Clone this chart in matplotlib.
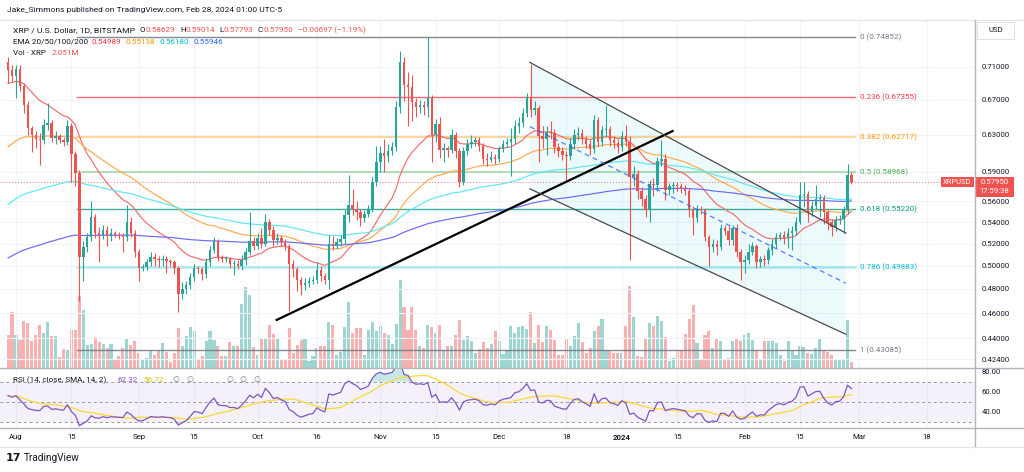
import numpy as np
import pandas as pd
import matplotlib
matplotlib.use("Agg")
import matplotlib.pyplot as plt
import matplotlib.dates as mdates
from matplotlib.ticker import NullLocator, NullFormatter
from matplotlib.patches import Rectangle
from matplotlib.lines import Line2D

plt.rcParams['font.family'] = ['Roboto', 'DejaVu Sans']

# ---- data (XRP/USD daily, Bitstamp) ----
dates = pd.date_range("2023-07-30", "2024-02-28", freq="D")
first_open = 0.716

close = [
    0.706, 0.698,
    0.707, 0.686, 0.664, 0.637, 0.630, 0.625, 0.624, 0.641, 0.643, 0.626, 0.628, 0.624, 0.622, 0.640, 0.609, 0.589,
    0.508, 0.517, 0.526, 0.545, 0.530, 0.528, 0.533, 0.527, 0.530, 0.528, 0.527, 0.526, 0.540, 0.530, 0.512,
    0.498, 0.499, 0.503, 0.508, 0.506, 0.505, 0.506, 0.504, 0.503, 0.498, 0.476, 0.480, 0.483, 0.490, 0.498,
    0.497, 0.493, 0.503, 0.514, 0.522, 0.508, 0.506, 0.506, 0.502, 0.502, 0.500, 0.505, 0.512, 0.522, 0.518,
    0.525, 0.520, 0.540, 0.533, 0.523, 0.525, 0.521, 0.518, 0.502, 0.497, 0.488, 0.483, 0.485, 0.487, 0.488, 0.496,
    0.491, 0.488, 0.520, 0.518, 0.521, 0.524, 0.547, 0.557, 0.553, 0.550, 0.544, 0.548, 0.553, 0.580, 0.600,
    0.610, 0.607, 0.612, 0.616, 0.661, 0.716, 0.687, 0.685, 0.667, 0.661, 0.664, 0.662, 0.672, 0.630, 0.642,
    0.613, 0.615, 0.613, 0.630, 0.612, 0.580, 0.612, 0.620, 0.622, 0.624, 0.618, 0.604, 0.602, 0.606, 0.603,
    0.614, 0.620, 0.622, 0.625, 0.640, 0.643, 0.654, 0.673, 0.658, 0.660, 0.628, 0.625, 0.633, 0.632, 0.616, 0.612,
    0.608, 0.607, 0.620, 0.630, 0.632, 0.625, 0.620, 0.614, 0.646, 0.622, 0.635, 0.636, 0.624, 0.621, 0.616,
    0.628, 0.622, 0.585, 0.588, 0.570, 0.562, 0.552, 0.578, 0.577, 0.601, 0.603, 0.571, 0.575, 0.577, 0.575, 0.572,
    0.570, 0.552, 0.544, 0.553, 0.552, 0.526, 0.517, 0.520, 0.517, 0.534, 0.532, 0.523, 0.534, 0.512, 0.503,
    0.505, 0.512, 0.518, 0.503, 0.506, 0.505, 0.514, 0.520, 0.526, 0.528, 0.525, 0.530, 0.532, 0.540, 0.566,
    0.567, 0.550, 0.556, 0.562, 0.563, 0.550, 0.540, 0.535, 0.542, 0.543, 0.552, 0.58629, 0.5795,
]
high = [
    0.722, 0.712,
    0.712, 0.712, 0.690, 0.668, 0.640, 0.634, 0.632, 0.648, 0.666, 0.646, 0.634, 0.631, 0.627, 0.646, 0.643, 0.612,
    0.592, 0.522, 0.530, 0.560, 0.548, 0.535, 0.537, 0.536, 0.534, 0.532, 0.531, 0.530, 0.557, 0.545, 0.533,
    0.515, 0.502, 0.506, 0.512, 0.511, 0.509, 0.510, 0.509, 0.506, 0.505, 0.500, 0.486, 0.487, 0.494, 0.502,
    0.500, 0.499, 0.507, 0.518, 0.526, 0.524, 0.510, 0.509, 0.508, 0.505, 0.505, 0.510, 0.516, 0.550, 0.526,
    0.530, 0.534, 0.548, 0.543, 0.536, 0.530, 0.528, 0.524, 0.520, 0.505, 0.499, 0.490, 0.489, 0.490, 0.491, 0.503,
    0.500, 0.494, 0.528, 0.527, 0.525, 0.528, 0.552, 0.587, 0.572, 0.560, 0.553, 0.552, 0.557, 0.585, 0.618,
    0.618, 0.625, 0.620, 0.622, 0.668, 0.730, 0.722, 0.704, 0.700, 0.672, 0.670, 0.668, 0.7485, 0.676, 0.648,
    0.650, 0.621, 0.618, 0.636, 0.633, 0.615, 0.616, 0.625, 0.630, 0.627, 0.627, 0.621, 0.610, 0.612, 0.609,
    0.618, 0.624, 0.626, 0.637, 0.646, 0.650, 0.660, 0.678, 0.714, 0.668, 0.664, 0.640, 0.640, 0.645, 0.636, 0.621,
    0.616, 0.612, 0.626, 0.636, 0.638, 0.636, 0.629, 0.624, 0.652, 0.650, 0.640, 0.664, 0.640, 0.628, 0.625,
    0.634, 0.641, 0.628, 0.596, 0.592, 0.574, 0.566, 0.582, 0.584, 0.606, 0.624, 0.609, 0.579, 0.580, 0.580, 0.579,
    0.576, 0.573, 0.556, 0.557, 0.556, 0.554, 0.528, 0.524, 0.523, 0.538, 0.537, 0.536, 0.537, 0.538, 0.515,
    0.510, 0.520, 0.521, 0.520, 0.509, 0.510, 0.517, 0.524, 0.530, 0.531, 0.532, 0.534, 0.536, 0.545, 0.580,
    0.580, 0.570, 0.560, 0.576, 0.567, 0.566, 0.552, 0.543, 0.546, 0.547, 0.556, 0.598, 0.59014,
]
low = [
    0.690, 0.693,
    0.672, 0.680, 0.655, 0.630, 0.611, 0.615, 0.597, 0.620, 0.635, 0.622, 0.620, 0.621, 0.618, 0.619, 0.580, 0.575,
    0.470, 0.487, 0.512, 0.522, 0.525, 0.503, 0.524, 0.518, 0.522, 0.526, 0.524, 0.512, 0.522, 0.526, 0.508,
    0.487, 0.495, 0.496, 0.500, 0.500, 0.499, 0.500, 0.494, 0.500, 0.493, 0.461, 0.472, 0.476, 0.480, 0.487,
    0.494, 0.488, 0.489, 0.500, 0.511, 0.504, 0.503, 0.503, 0.498, 0.492, 0.497, 0.496, 0.501, 0.510, 0.514,
    0.515, 0.516, 0.518, 0.528, 0.518, 0.520, 0.518, 0.514, 0.462, 0.490, 0.478, 0.475, 0.479, 0.482, 0.484, 0.485,
    0.487, 0.484, 0.480, 0.514, 0.515, 0.518, 0.520, 0.540, 0.547, 0.542, 0.536, 0.540, 0.545, 0.550, 0.575,
    0.590, 0.590, 0.600, 0.608, 0.612, 0.655, 0.668, 0.640, 0.645, 0.650, 0.655, 0.652, 0.650, 0.600, 0.622,
    0.605, 0.600, 0.606, 0.610, 0.605, 0.574, 0.577, 0.608, 0.615, 0.618, 0.612, 0.598, 0.596, 0.600, 0.598,
    0.600, 0.611, 0.616, 0.586, 0.620, 0.632, 0.638, 0.650, 0.650, 0.652, 0.600, 0.615, 0.608, 0.625, 0.610, 0.606,
    0.602, 0.582, 0.602, 0.614, 0.624, 0.620, 0.615, 0.608, 0.610, 0.616, 0.618, 0.628, 0.618, 0.615, 0.610,
    0.612, 0.618, 0.505, 0.575, 0.562, 0.556, 0.545, 0.540, 0.565, 0.570, 0.596, 0.561, 0.566, 0.568, 0.570, 0.568,
    0.566, 0.545, 0.528, 0.540, 0.548, 0.522, 0.500, 0.512, 0.510, 0.514, 0.528, 0.519, 0.519, 0.508, 0.488,
    0.494, 0.502, 0.510, 0.498, 0.499, 0.500, 0.502, 0.510, 0.516, 0.523, 0.520, 0.516, 0.514, 0.528, 0.538,
    0.555, 0.540, 0.546, 0.553, 0.545, 0.538, 0.533, 0.527, 0.532, 0.538, 0.530, 0.548, 0.57793,
]
# volume in millions XRP
volume = [
    11.0, 18.7,
    11.0, 9.3, 15.7, 15.0, 9.0, 11.0, 14.3, 11.7, 15.3, 10.7, 10.7, 3.7, 6.3, 6.0, 12.7, 12.7,
    24.0, 19.3, 7.7, 8.0, 10.3, 8.7, 8.0, 6.7, 8.0, 2.7, 4.0, 6.7, 10.0, 7.7, 9.0,
    5.0, 2.7, 3.3, 5.7, 4.3, 5.7, 8.3, 5.3, 2.0, 5.0, 13.3, 7.3, 10.7, 13.7, 12.3,
    2.7, 4.0, 9.0, 12.3, 9.3, 7.3, 4.0, 4.0, 8.7, 7.3, 7.3, 21.3, 27.0, 24.3, 7.0,
    4.3, 10.0, 9.7, 14.3, 11.3, 9.7, 3.0, 3.0, 13.3, 5.0, 7.7, 9.3, 10.0, 2.3, 4.0, 6.7,
    7.3, 7.3, 15.3, 14.3, 4.3, 5.3, 13.7, 22.0, 11.7, 13.3, 13.3, 4.3, 12.7, 15.3, 12.3,
    14.0, 11.7, 11.0, 8.0, 14.7, 29.3, 20.3, 12.7, 20.3, 12.7, 7.3, 6.7, 14.3, 13.7, 11.7,
    14.3, 6.0, 7.3, 7.3, 11.0, 16.0, 9.3, 10.7, 9.0, 5.0, 6.3, 8.7, 6.7, 8.0, 12.3,
    9.0, 4.7, 6.0, 14.0, 11.7, 13.7, 14.0, 13.0, 18.7, 8.3, 14.3, 8.7, 14.0, 12.7, 9.3, 4.3,
    4.3, 9.7, 7.3, 10.7, 15.0, 8.7, 5.0, 6.7, 12.3, 14.0, 16.3, 6.0, 5.7, 5.0, 5.0,
    5.0, 14.0, 27.3, 17.0, 4.0, 3.7, 10.0, 15.0, 14.0, 17.3, 15.7, 10.3, 2.3, 3.3, 5.7, 5.7,
    11.3, 16.3, 21.0, 8.3, 2.7, 11.0, 12.3, 6.7, 9.7, 9.0, 2.7, 3.3, 9.0, 10.0, 9.0,
    11.0, 11.7, 9.3, 5.7, 3.0, 9.0, 9.0, 9.0, 8.3, 4.3, 2.3, 9.0, 6.0, 4.3, 7.3,
    7.0, 5.0, 4.7, 6.7, 9.7, 6.0, 5.3, 4.3, 2.7, 2.7, 3.0, 16.0, 2.051,
]

# EMA starting values just before the first candle
ema_lengths = [20, 50, 100, 200]
ema_seeds = [0.688, 0.613, 0.554, 0.505]
ema_colors = ['#f26b6b', '#ffa94d', '#5ee6f2', '#6a6af5']
ema_labels = ['0.54989', '0.55138', '0.56180', '0.55946']
ema_label_colors = ['#f23645', '#ff9800', '#00bcd4', '#2962ff']
rsi_seed_gain, rsi_seed_loss = 0.013, 0.0094

# fibonacci retracement
fib_levels = ['0', '0.236', '0.382', '0.5', '0.618', '0.786', '1']
fib_values = [0.74852, 0.67355, 0.62717, 0.58968, 0.55220, 0.49883, 0.43085]
fib_colors = ['#787b86', '#f23645', '#ff9800', '#4caf50', '#089981', '#00bcd4', '#787b86']
fib_start, fib_end, fib_label_at = "2023-08-16 08:00", "2024-02-28 22:00", "2024-03-01 03:00"

# drawings
trend_dates = ["2023-10-05 20:00", "2024-01-13 20:00"]
trend_prices = [0.4545, 0.634]
chan_dates = ["2023-12-08 19:00", "2024-02-26 14:00"]
chan_upper = [0.7155, 0.5297]
chan_mid = [0.6389, 0.4849]
chan_lower = [0.5726, 0.4432]

last_price = 0.5795
price_ticks = [0.71, 0.67, 0.63, 0.59, 0.56, 0.54, 0.52, 0.50, 0.48, 0.46, 0.44, 0.424]
rsi_ticks = [80, 60, 40]
tick_dates = ['2023-08-01', '2023-08-15', '2023-09-01', '2023-09-15', '2023-10-01', '2023-10-16',
              '2023-11-01', '2023-11-15', '2023-12-01', '2023-12-18', '2024-01-01', '2024-01-15',
              '2024-02-01', '2024-02-15', '2024-03-01', '2024-03-18']
tick_labels = ['Aug', '15', 'Sep', '15', 'Oct', '16', 'Nov', '15', 'Dec', '18', '2024', '15',
               'Feb', '15', 'Mar', '18']

# ---- helpers ----
def ema(values, n, seed):
    a = 2 / (n + 1)
    e = seed
    out = []
    for v in values:
        e = e + a * (v - e)
        out.append(e)
    return np.array(out)


def rsi(values, prev, g, l, n=14):
    out = []
    for v in values:
        d = v - prev
        prev = v
        g = (g * (n - 1) + max(d, 0)) / n
        l = (l * (n - 1) + max(-d, 0)) / n
        out.append(100 - 100 / (1 + g / l))
    return np.array(out)


W, H = 1024, 472
TXT = '#131722'
GREEN, RED = '#26a69a', '#ef5350'

fig = plt.figure(figsize=(W / 100, H / 100), dpi=100)
fig.patch.set_facecolor('white')


def px_axes(x0, y0, x1, y1):
    return fig.add_axes([x0 / W, 1 - y1 / H, (x1 - x0) / W, (y1 - y0) / H])


def ftext(x, y, s, **kw):
    fig.text(x / W, 1 - y / H, s, va='center', **kw)


def fline(x0, y0, x1, y1, **kw):
    fig.add_artist(Line2D([x0 / W, x1 / W], [1 - y0 / H, 1 - y1 / H], **kw))


xs = mdates.date2num(dates)
c = np.array(close)
o = np.array([first_open] + close[:-1])
hi = np.array(high)
lo = np.array(low)
up = c >= o
cols = np.where(up, GREEN, RED)

x_left = mdates.date2num(pd.Timestamp("2023-08-01")) - 4.04
x_right = mdates.date2num(pd.Timestamp("2023-08-01")) + 242.2
tick_x = mdates.date2num(pd.to_datetime(tick_dates))

# ---- volume (behind) ----
vax = px_axes(0, 20, 975, 368)
vax.bar(xs, volume, width=0.78, color=cols, alpha=0.45, linewidth=0)
vax.set_xlim(x_left, x_right)
vax.set_ylim(0, 116)
vax.axis('off')

# ---- price pane ----
ax = px_axes(0, 20, 975, 368)
ax.set_zorder(vax.get_zorder() + 1)
ax.patch.set_visible(False)
ax.set_yscale('log')
ax.set_xlim(x_left, x_right)
ax.set_ylim(0.4176, 0.7710)
for s in ax.spines.values():
    s.set_visible(False)
ax.yaxis.tick_right()
ax.set_yticks(price_ticks)
ax.set_yticklabels([f"{v:.5f}" for v in price_ticks])
ax.yaxis.set_minor_locator(NullLocator())
ax.yaxis.set_minor_formatter(NullFormatter())
ax.tick_params(axis='y', length=0, pad=5, labelsize=5.6, labelcolor=TXT)
ax.set_xticks(tick_x)
ax.tick_params(axis='x', length=0, labelbottom=False)
ax.grid(True, color='#f0f3fa', lw=0.8)
ax.set_axisbelow(True)

# channel fill + lines
cx = mdates.date2num(pd.to_datetime(chan_dates))
ax.fill([cx[0], cx[1], cx[1], cx[0]], [chan_upper[0], chan_upper[1], chan_lower[1], chan_lower[0]],
        color='#00bcd4', alpha=0.07, lw=0, zorder=1)

# fib lines
fx0 = mdates.date2num(pd.Timestamp(fib_start))
fx1 = mdates.date2num(pd.Timestamp(fib_end))
flab = mdates.date2num(pd.Timestamp(fib_label_at))
fib_lw = [1.0, 1.0, 1.4, 1.4, 1.0, 1.8, 1.0]
fib_alpha = [0.9, 0.75, 0.4, 0.4, 0.8, 0.3, 0.9]
for lvl, val, col, lw_, al in zip(fib_levels, fib_values, fib_colors, fib_lw, fib_alpha):
    ax.plot([fx0, fx1], [val, val], color=col, lw=lw_, alpha=al, zorder=2)
    ax.text(flab, val, f"{lvl} ({val:.5f})", color=col, fontsize=5.8, va='center', ha='left')

# current price line
ax.axhline(last_price, color=RED, ls=(0, (1, 2)), lw=0.7, alpha=0.8, zorder=2)

# EMAs
for n, seed, col in zip(ema_lengths, ema_seeds, ema_colors):
    ax.plot(xs, ema(close, n, seed), color=col, lw=0.85, zorder=3)

# candles
ax.vlines(xs, lo, hi, colors=cols, lw=0.8, zorder=4)
body_lo = np.minimum(o, c)
body_h = np.maximum(np.abs(c - o), 0.0008)
ax.bar(xs, body_h, bottom=body_lo, width=0.62, color=cols, linewidth=0, zorder=5)

# trend line and channel lines
tx = mdates.date2num(pd.to_datetime(trend_dates))
ax.plot(tx, trend_prices, color='black', lw=1.6, zorder=6)
ax.plot(cx, chan_upper, color='#4a4a4a', lw=0.9, zorder=6)
ax.plot(cx, chan_lower, color='#4a4a4a', lw=0.9, zorder=6)
ax.plot(cx, chan_mid, color='#2962ff', lw=0.9, ls=(0, (4, 3)), alpha=0.8, zorder=6)

# ---- RSI pane ----
rax = px_axes(0, 368, 975, 427.5)
r = rsi(close, first_open, rsi_seed_gain, rsi_seed_loss)
r_sma = pd.Series(r).rolling(14, min_periods=1).mean().values
rax.set_xlim(x_left, x_right)
rax.set_ylim(24.2, 83.7)
rax.axhspan(30, 70, color='#7e57c2', alpha=0.08, lw=0)
for lvl in (70, 50, 30):
    rax.axhline(lvl, color='#9598a1', ls=(0, (3, 3)), lw=0.7)
rax.fill_between(xs, r, 70, where=r > 70, interpolate=True, color=GREEN, alpha=0.25, lw=0)
rax.fill_between(xs, r, 30, where=r < 30, interpolate=True, color=RED, alpha=0.25, lw=0)
rax.plot(xs, r_sma, color='#fdd835', lw=0.9)
rax.plot(xs, r, color='#7e57c2', lw=0.9)
for s in rax.spines.values():
    s.set_visible(False)
rax.yaxis.tick_right()
rax.set_yticks(rsi_ticks)
rax.set_yticklabels([f"{v:.2f}" for v in rsi_ticks])
rax.tick_params(axis='y', length=0, pad=5, labelsize=5.6, labelcolor=TXT)
rax.set_xticks(tick_x)
rax.set_xticklabels(tick_labels)
rax.tick_params(axis='x', length=0, pad=5, labelsize=5.6, labelcolor=TXT)
for lab in rax.get_xticklabels():
    if lab.get_text() == '2024':
        lab.set_fontweight('bold')
rax.grid(True, axis='x', color='#f0f3fa', lw=0.8)
rax.set_axisbelow(True)

# ---- frame lines ----
fline(0, 20, 1024, 20, color='#e0e3eb', lw=0.8)
fline(975, 20, 975, 447, color='#b2b5be', lw=1.0)
fline(0, 368, 1024, 368, color='#b2b5be', lw=1.0)
fline(0, 427.5, 1024, 427.5, color='#b2b5be', lw=1.0)
fline(0, 447, 1024, 447, color='#e0e3eb', lw=0.8)

# ---- price tags on the axis ----
fig.add_artist(Rectangle((975 / W, 1 - 196.5 / H), 39 / W, 20 / H, transform=fig.transFigure,
                         facecolor=RED, edgecolor='none'))
ftext(994.5, 181.5, "0.57950", color='white', fontsize=5.6, ha='center')
ftext(994.5, 191, "17:59:38", color='white', fontsize=5.6, ha='center')
fig.add_artist(Rectangle((941 / W, 1 - 187 / H), 33 / W, 10.5 / H, transform=fig.transFigure,
                         facecolor=RED, edgecolor='none'))
ftext(957.5, 182, "XRPUSD", color='white', fontsize=5.4, ha='center')
fig.add_artist(Rectangle((977 / W, 1 - 38.5 / H), 37 / W, 16 / H, transform=fig.transFigure,
                         facecolor='white', edgecolor='#e0e3eb', lw=0.8))
ftext(995.5, 30.5, "USD", color=TXT, fontsize=5.6, ha='center')

# ---- header / legends ----
ftext(7, 10, "Jake_Simmons published on TradingView.com, Feb 28, 2024 01:00 UTC-5", color=TXT, fontsize=6.0)
ftext(13, 30, "XRP / U.S. Dollar, 1D, BITSTAMP", color=TXT, fontsize=6.1)
for lx, letter, vx, val in [(140, 'O', 145, '0.58629'), (180, 'H', 186, '0.59014'),
                            (219, 'L', 224, '0.57793'), (257, 'C', 263, '0.57950')]:
    ftext(lx, 30, letter, color=TXT, fontsize=5.9)
    ftext(vx, 30, val, color=RED, fontsize=5.9)
ftext(298, 30, "\u22120.00697 (\u22121.19%)", color=RED, fontsize=5.9)
ftext(13, 42, "EMA 20/50/100/200", color=TXT, fontsize=5.9)
for vx, val, col in zip([92, 126, 160, 194], ema_labels, ema_label_colors):
    ftext(vx, 42, val, color=col, fontsize=5.9)
ftext(13, 53, "Vol \u00b7 XRP", color=TXT, fontsize=5.9)
ftext(52, 53, "2.051M", color=RED, fontsize=5.9)

ftext(13, 380, "RSI (14, close, SMA, 14, 2)", color=TXT, fontsize=5.9)
ftext(118, 380, "62.32", color='#7e57c2', fontsize=5.9)
ftext(143, 380, "56.72", color='#e6c200', fontsize=5.9)
for ex in [172, 186, 226, 239, 253]:
    ftext(ex, 380, "\u2205", color='#787b86', fontsize=5.8, family=['DejaVu Sans'])

# footer
ftext(6, 458, "17", color=TXT, fontsize=8, fontweight='heavy', family=['DejaVu Sans'])
ftext(24, 458, "TradingView", color=TXT, fontsize=7.2)

fig.savefig("out.png", dpi=100)
